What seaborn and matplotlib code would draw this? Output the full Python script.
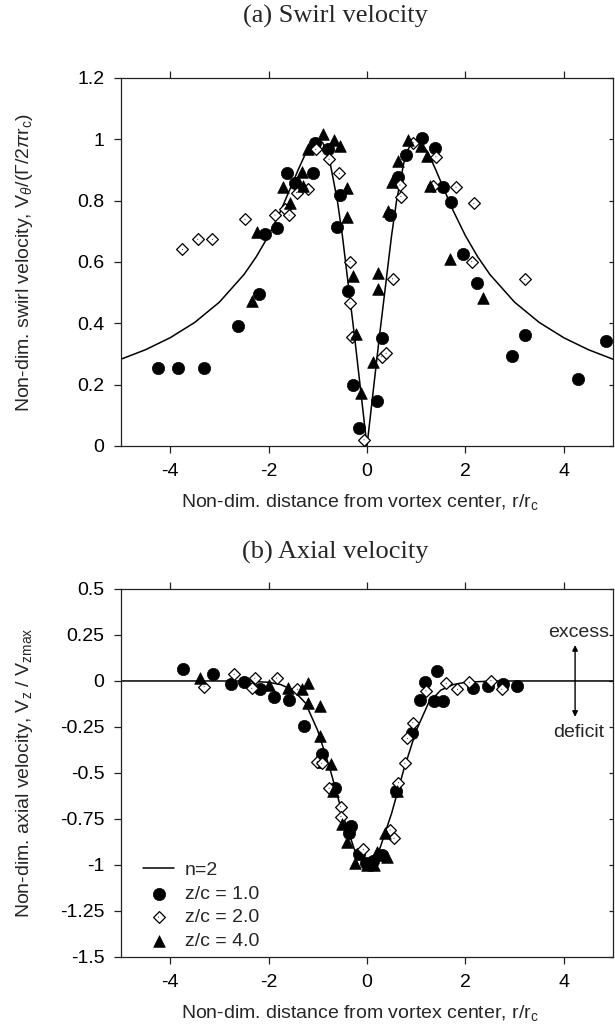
import matplotlib
matplotlib.use("Agg")
import matplotlib.pyplot as plt
import matplotlib.lines as mlines
import seaborn as sns
import pandas as pd

# ---- dados: (a) velocidade tangencial ----
swirl_circ_x = [-4.25, -3.85, -3.31, -2.62, -2.195, -2.07, -1.82, -1.63, -1.46, -1.09, -1.06, -0.80,
                -0.55, -0.60, -0.38, -0.29, -0.16, 0.21, 0.31, 0.47, 0.64, 0.79, 1.11, 1.38, 1.55,
                1.70, 1.96, 2.23, 2.95, 3.21, 4.28, 4.86]
swirl_circ_y = [0.253, 0.253, 0.253, 0.392, 0.496, 0.69, 0.71, 0.889, 0.859, 0.889, 0.987, 0.967,
                0.818, 0.713, 0.506, 0.199, 0.058, 0.148, 0.351, 0.753, 0.878, 0.949, 1.003, 0.973, 0.844,
                0.797, 0.626, 0.532, 0.294, 0.362, 0.218, 0.343]

swirl_diam_x = [-3.75, -3.44, -3.14, -2.48, -1.87, -1.67, -1.58, -1.43, -1.205, -1.04, -0.77, -0.56,
                -0.345, -0.345, -0.31, -0.06, 0.30, 0.39, 0.52, 0.67, 0.69, 0.94, 1.40, 1.35, 1.81,
                2.17, 2.13, 3.21]
swirl_diam_y = [0.641, 0.674, 0.674, 0.739, 0.753, 0.773, 0.753, 0.826, 0.838, 0.967, 0.935, 0.889,
                0.601, 0.467, 0.354, 0.02, 0.291, 0.302, 0.545, 0.851, 0.813, 0.989, 0.943, 0.848, 0.844,
                0.791, 0.601, 0.543]

swirl_tri_x = [-2.34, -2.24, -1.71, -1.565, -1.315, -1.31, -1.19, -0.90, -0.67, -0.55, -0.41, -0.41,
               -0.28, -0.22, -0.13, 0.115, 0.23, 0.23, 0.43, 0.50, 0.64, 0.84, 1.09, 1.23, 1.28,
               1.69, 2.36]
swirl_tri_y = [0.474, 0.699, 0.845, 0.791, 0.894, 0.848, 0.967, 1.017, 0.998, 0.978, 0.840, 0.748,
               0.554, 0.365, 0.172, 0.275, 0.565, 0.511, 0.767, 0.862, 0.929, 0.998, 0.978, 0.946, 0.848,
               0.609, 0.482]

# curva n=2
swirl_curve_x = [-5, -4.5, -4, -3.5, -3, -2.5, -2.25, -2, -1.75, -1.5, -1.4, -1.25, -1.1, -1, -0.9,
                 -0.8, -0.75, -0.6, -0.5, -0.25, 0, 0.25, 0.5, 0.6, 0.75, 0.8, 0.9, 1, 1.1, 1.25,
                 1.4, 1.5, 1.75, 2, 2.25, 2.5, 3, 3.5, 4, 4.5, 5]
swirl_curve_y = [0.283, 0.314, 0.353, 0.403, 0.469, 0.559, 0.617, 0.686, 0.768, 0.862, 0.900, 0.953,
                 0.991, 1.0, 0.989, 0.953, 0.924, 0.798, 0.686, 0.353, 0.0, 0.353, 0.686, 0.798, 0.924,
                 0.953, 0.989, 1.0, 0.991, 0.953, 0.900, 0.862, 0.768, 0.686, 0.617, 0.559, 0.469,
                 0.403, 0.353, 0.314, 0.283]

# ---- dados: (b) velocidade axial ----
axial_circ_x = [-3.73, -3.12, -2.77, -2.50, -2.17, -1.88, -1.585, -1.28, -0.92, -0.955, -0.65, -0.325,
                -0.36, -0.155, -0.02, 0.12, 0.30, 0.59, 0.91, 1.08, 1.18, 1.43, 1.36, 1.54, 2.16,
                2.45, 2.76, 3.05]
axial_circ_y = [0.065, 0.036, -0.016, -0.007, -0.045, -0.089, -0.103, -0.245, -0.397, -0.438, -0.583,
                -0.788, -0.828, -0.94, -0.99, -0.98, -0.946, -0.596, -0.284, -0.103, -0.004, 0.054,
                -0.109, -0.109, -0.036, -0.027, -0.016, -0.025]

axial_diam_x = [-3.31, -2.70, -2.34, -2.28, -1.835, -1.415, -1.01, -0.92, -0.77, -0.535, -0.53, -0.075,
                0.47, 0.55, 0.64, 0.77, 0.82, 0.93, 1.20, 1.61, 1.84, 2.08, 2.52, 2.74]
axial_diam_y = [-0.031, 0.036, -0.040, 0.015, 0.015, -0.045, -0.438, -0.447, -0.583, -0.683, -0.737,
                -0.915, -0.81, -0.855, -0.553, -0.447, -0.312, -0.227, -0.054, -0.013, -0.045, -0.007,
                0.002, -0.045]

axial_tri_x = [-3.39, -2.0, -1.61, -1.33, -1.19, -1.19, -0.955, -0.955, -0.74, -0.685, -0.515, -0.40,
               -0.245, 0.0, 0.14, 0.21, 0.40, 0.37, 0.62]
axial_tri_y = [0.015, -0.022, -0.036, -0.045, -0.009, -0.118, -0.136, -0.297, -0.453, -0.60, -0.78,
               -0.873, -0.99, -1.0, -1.0, -0.927, -0.955, -0.824, -0.60]

axial_curve_x = [-5, -3, -2.5, -2, -1.75, -1.5, -1.25, -1, -0.75, -0.5, -0.25, 0, 0.25, 0.5, 0.75,
                 1, 1.25, 1.5, 1.75, 2, 2.5, 3, 5]
axial_curve_y = [0.0, 0.0, -0.001, -0.007, -0.02, -0.05, -0.12, -0.27, -0.48, -0.72, -0.92, -1.0,
                 -0.92, -0.72, -0.48, -0.27, -0.12, -0.05, -0.02, -0.007, -0.001, 0.0, 0.0]

labels = ['n=2', 'z/c = 1.0', 'z/c = 2.0', 'z/c = 4.0']

sns.set_style('ticks')
plt.rcParams['font.family'] = ['Liberation Sans', 'DejaVu Sans']
plt.rcParams['mathtext.fontset'] = 'custom'
plt.rcParams['mathtext.rm'] = 'Liberation Sans'
plt.rcParams['mathtext.it'] = 'Liberation Sans:italic'
plt.rcParams['axes.unicode_minus'] = False

fig = plt.figure(figsize=(6.15, 10.3), dpi=100)
ax1 = fig.add_axes([0.1967, 0.5670, 0.8, 0.3573])
ax2 = fig.add_axes([0.1967, 0.0709, 0.8, 0.3573])


def desenha(ax, cx, cy, circ_x, circ_y, diam_x, diam_y, tri_x, tri_y):
    sns.lineplot(x=cx, y=cy, color='black', lw=1.1, ax=ax, errorbar=None, legend=False)
    sns.scatterplot(x=circ_x, y=circ_y, marker='o', s=78, color='black', edgecolor='black',
                    linewidth=0.5, ax=ax, legend=False, zorder=3)
    sns.scatterplot(x=diam_x, y=diam_y, marker='D', s=36, color='white', edgecolor='black',
                    linewidth=0.9, ax=ax, legend=False, zorder=3)
    sns.scatterplot(x=diam_x, y=diam_y, marker='.', s=2, color='black', edgecolor='none',
                    ax=ax, legend=False, zorder=4)
    sns.scatterplot(x=tri_x, y=tri_y, marker='^', s=70, color='black', edgecolor='black',
                    linewidth=0.5, ax=ax, legend=False, zorder=3)
    ax.set_xlim(-5, 5)
    ax.set_xticks([-4, -2, 0, 2, 4])
    ax.set_xticklabels(['-4', '-2', '0', '2', '4'])
    for s in ax.spines.values():
        s.set_visible(True)
        s.set_linewidth(0.9)
        s.set_color('#222222')
    ax.tick_params(direction='out', length=5, width=0.9, pad=7, labelsize=14, colors='#222222',
                   top=True, right=True, labelcolor='black')
    ax.set_xlabel(r'Non-dim. distance from vortex center, r/r$_\mathregular{c}$', fontsize=14)
    ax.xaxis.set_label_coords(0.485, -0.125)
    ax.yaxis.set_label_coords(-0.175, 0.5)


desenha(ax1, swirl_curve_x, swirl_curve_y, swirl_circ_x, swirl_circ_y,
        swirl_diam_x, swirl_diam_y, swirl_tri_x, swirl_tri_y)
ax1.set_ylim(0, 1.2)
ax1.set_yticks([0, 0.2, 0.4, 0.6, 0.8, 1.0, 1.2])
ax1.set_yticklabels(['0', '0.2', '0.4', '0.6', '0.8', '1', '1.2'])
ax1.set_ylabel(r'Non-dim. swirl velocity, V$_\theta$/($\Gamma$/2$\pi$r$_\mathregular{c}$)', fontsize=14)

desenha(ax2, axial_curve_x, axial_curve_y, axial_circ_x, axial_circ_y,
        axial_diam_x, axial_diam_y, axial_tri_x, axial_tri_y)
ax2.set_ylim(-1.5, 0.5)
ax2.set_yticks([0.5, 0.25, 0, -0.25, -0.5, -0.75, -1, -1.25, -1.5])
ax2.set_yticklabels(['0.5', '0.25', '0', '-0.25', '-0.5', '-0.75', '-1', '-1.25', '-1.5'])
ax2.set_ylabel(r'Non-dim. axial velocity, V$_\mathregular{z}$ / V$_\mathregular{zmax}$', fontsize=14)

# ticks do lado direito para dentro
for ax in (ax1, ax2):
    for t in ax.yaxis.get_major_ticks():
        t.tick2line.set_marker(mlines.TICKLEFT)
        t.tick2line.set_markersize(3)

# excesso / déficit
ax2.annotate('', xy=(4.23, 0.21), xytext=(4.23, -0.21),
             arrowprops=dict(arrowstyle='<|-|>', color='black', lw=1, mutation_scale=8))
ax2.text(4.30, 0.265, 'excess', ha='center', va='center', fontsize=14)
ax2.text(4.30, -0.28, 'deficit', ha='center', va='center', fontsize=14)

# legenda
linha = ax2.lines[0]
cols = ax2.collections
handles = [linha, cols[0], (cols[1], cols[2]), cols[3]]
ax2.legend(handles=handles, labels=labels, loc='lower left', bbox_to_anchor=(0.045, 0.02),
           frameon=False, fontsize=14, handlelength=1.6, handletextpad=0.55, labelspacing=0.3,
           borderpad=0, borderaxespad=0, scatterpoints=1)

fig.text(0.545, 0.9845, '(a) Swirl velocity', ha='center', va='center',
         family='Liberation Serif', fontsize=19)
fig.text(0.545, 0.464, '(b) Axial velocity', ha='center', va='center',
         family='Liberation Serif', fontsize=19)

fig.savefig('out.png', dpi=100)
